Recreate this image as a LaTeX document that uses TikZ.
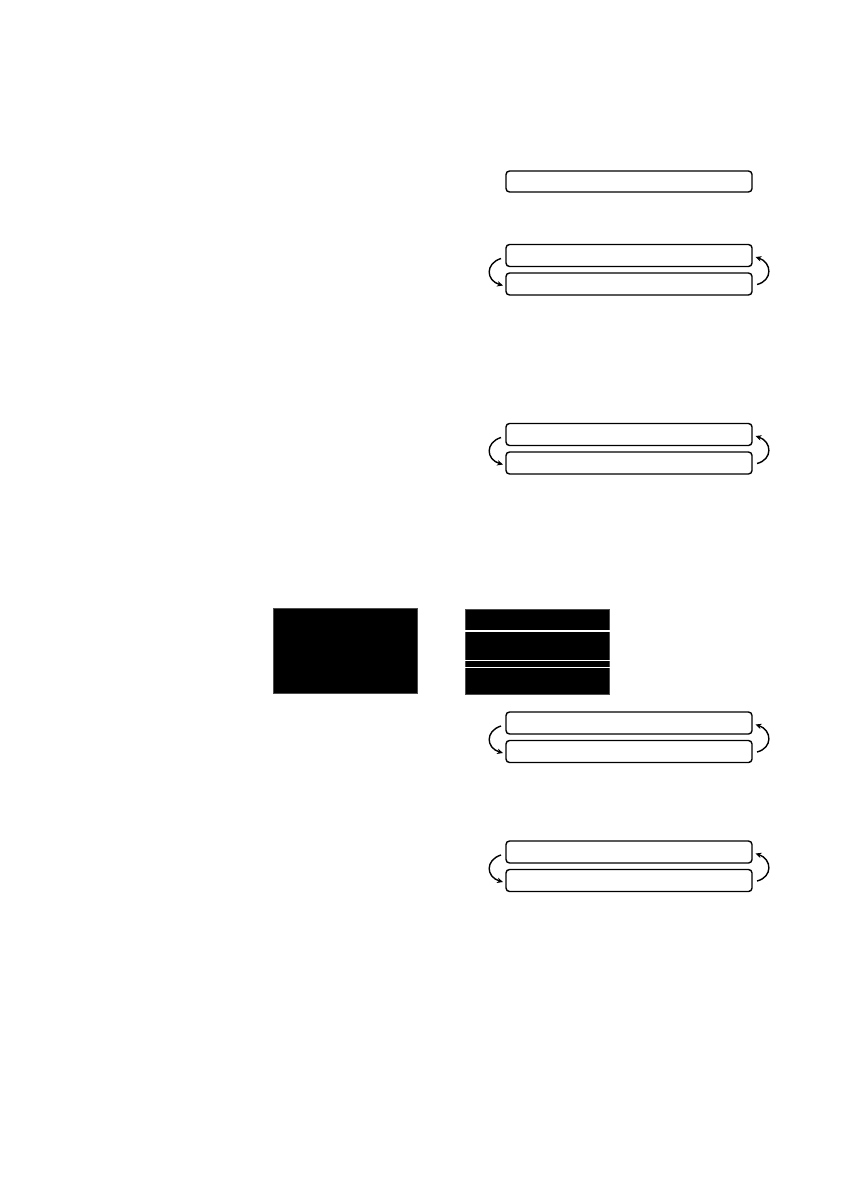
\documentclass[tikz,border=0pt]{standalone}
\usetikzlibrary{arrows.meta}
\begin{document}
\begin{tikzpicture}[x=1pt,y=-1pt,
  lcd/.style={draw=black,line width=1.4pt,rounded corners=3.5pt,fill=white},
  cyc/.style={line width=1.4pt,-{Stealth[length=6pt,width=5.5pt]}},
  blk/.style={fill=black,draw=black!70,line width=0.6pt}]
\useasboundingbox (0,0) rectangle (840,1190);
% single display
\draw[lcd] (506,171) rectangle (752,192);
% display pairs with cycle arrows
\foreach \t/\n in {244.5/a,423.5/b,712/c,841/d}{
  \draw[lcd] (506,\t) rectangle (752,\t+22);
  \draw[lcd] (506,\t+28.5) rectangle (752,\t+50.5);
  \coordinate (L1\n) at (501,\t+14);
  \coordinate (L2\n) at (503,\t+41);
  \coordinate (R1\n) at (757,\t+40);
  \coordinate (R2\n) at (755.5,\t+12.5);
  \draw[cyc] (L1\n) .. controls (485,\t+19) and (486,\t+36) .. (L2\n);
  \draw[cyc] (R1\n) .. controls (773,\t+36) and (772,\t+18) .. (R2\n);
}
% black panels
\fill[blk] (273.5,608.5) rectangle (417.5,693.5);
\fill[blk] (465,609.5) rectangle (609.5,694.5);
\draw[white,line width=1.6pt] (465,631) -- (609.5,631);
\draw[white,line width=1.6pt] (465,660.3) -- (609.5,660.3);
\draw[white,line width=1.6pt] (465,667.6) -- (609.5,667.6);
\end{tikzpicture}
\end{document}
